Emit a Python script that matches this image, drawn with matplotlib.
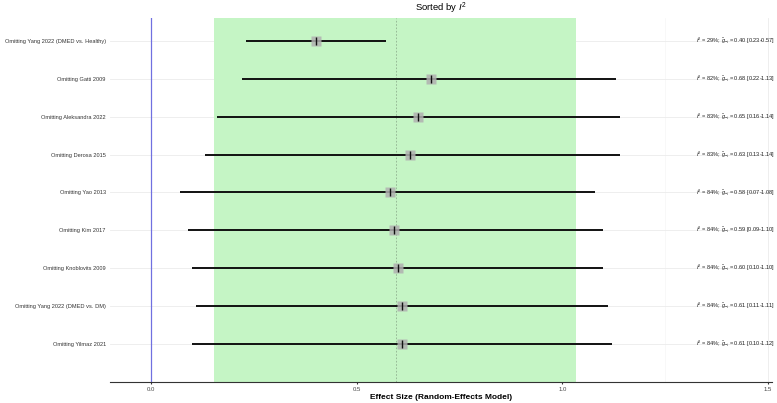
import matplotlib
matplotlib.use("Agg")
import matplotlib.pyplot as plt
import numpy as np

plt.rcParams["font.family"] = ["Liberation Sans", "DejaVu Sans"]
plt.rcParams["mathtext.fontset"] = "custom"
plt.rcParams["mathtext.rm"] = "Liberation Sans"
plt.rcParams["mathtext.it"] = "Liberation Sans:italic"

labels = ["Omitting Yang 2022 (DMED vs. Healthy)", "Omitting Gatti 2009", "Omitting Aleksandra 2022",
          "Omitting Derosa 2015", "Omitting Yao 2013", "Omitting Kim 2017", "Omitting Knoblovits 2009",
          "Omitting Yang 2022 (DMED vs. DM)", "Omitting Yilmaz 2021"]
est = [0.40, 0.68, 0.65, 0.63, 0.58, 0.59, 0.60, 0.61, 0.61]
lo = [0.23, 0.22, 0.16, 0.13, 0.07, 0.09, 0.10, 0.11, 0.10]
hi = [0.57, 1.13, 1.14, 1.14, 1.08, 1.10, 1.10, 1.11, 1.12]
i2 = [29, 82, 83, 83, 84, 84, 84, 84, 84]
pooled = 0.596
band = (0.153, 1.034)
xticks = [0.0, 0.5, 1.0, 1.5]
xtick_labels = ["0.0", "0.5", "1.0", "1.5"]

fig = plt.figure(figsize=(7.77, 4.03), dpi=100)
ax = fig.add_axes([0.1416, 0.0521, 0.852, 0.9032])
n = len(labels)
ys = np.arange(n, 0, -1)

ax.set_xlim(-0.1, 1.51)
ax.set_ylim(0.0, n + 0.6)

# grid
for v in xticks:
    ax.axvline(v, color="#ebebeb", lw=0.6, zorder=0)
for v in [0.25, 0.75, 1.25]:
    ax.axvline(v, color="#f3f3f3", lw=0.4, zorder=0)
for y in ys:
    ax.axhline(y, color="#ebebeb", lw=0.6, zorder=0)

ax.axvspan(band[0], band[1], color="#c5f5c5", zorder=1, lw=0)
ax.axvline(0, color="#7070e0", lw=0.9, zorder=2)
ax.axvline(pooled, color="#90b090", lw=0.6, ls=(0, (2, 2)), zorder=2)

for y, e, l, h, ii in zip(ys, est, lo, hi, i2):
    ax.plot([l, h], [y, y], color="#111111", lw=1.4, zorder=3, solid_capstyle="butt")
    ax.plot([e], [y], marker="s", ms=7, color="#b0b0b0", mec="none", alpha=0.85, zorder=4)
    ax.plot([e], [y], marker="|", ms=6, mew=1.0, color="#111111", zorder=5)
    ax.text(1.326, y, r"$I^2$ = %d%%; $\hat{g}_{-i}$ = %.2f [%.2f-%.2f]" % (ii, e, l, h),
            fontsize=4.1, va="center", ha="left", color="#222222", clip_on=False)

ax.set_yticks(ys)
ax.set_yticklabels(labels, fontsize=4.1, color="#333333")
ax.set_xticks(xticks)
ax.set_xticklabels(xtick_labels, fontsize=4.3, color="#444444")
ax.tick_params(axis="y", length=0, pad=3)
ax.tick_params(axis="x", length=1.5, color="#333333", pad=2)

for s in ["top", "right", "left"]:
    ax.spines[s].set_visible(False)
ax.spines["bottom"].set_color("#333333")
ax.spines["bottom"].set_linewidth(0.8)

ax.set_xlabel("Effect Size (Random-Effects Model)", fontsize=6, fontweight="bold", labelpad=1.5)
ax.set_title(r"Sorted by $I^2$", fontsize=6.8, pad=5)

fig.savefig("out.png", dpi=100)
